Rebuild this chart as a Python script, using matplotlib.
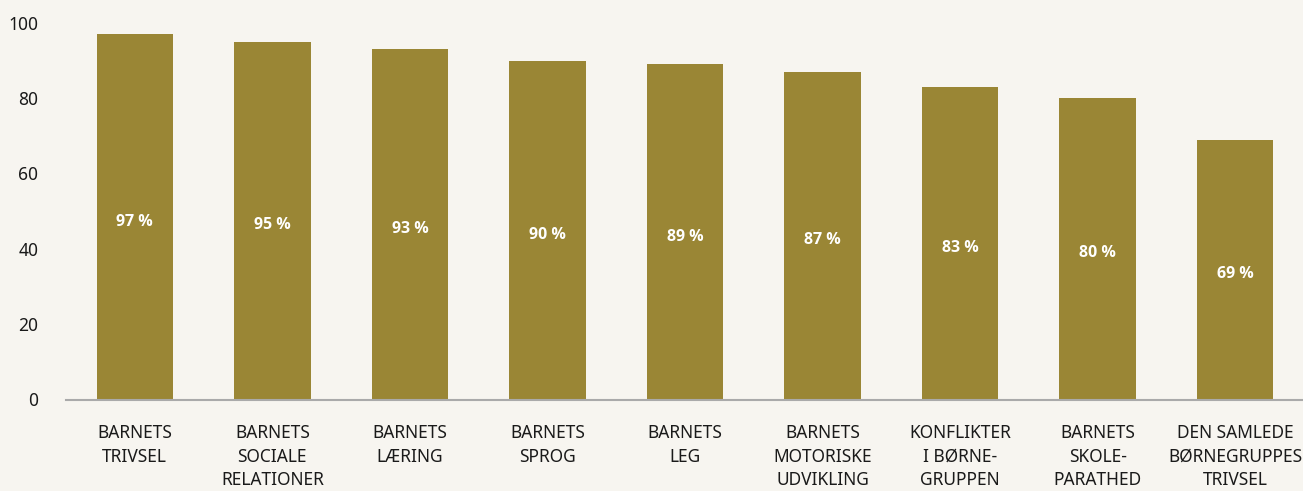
import numpy as np
import matplotlib.pyplot as plt

categories = ["BARNETS\nTRIVSEL", "BARNETS\nSOCIALE\nRELATIONER", "BARNETS\nLÆRING",
              "BARNETS\nSPROG", "BARNETS\nLEG", "BARNETS\nMOTORISKE\nUDVIKLING",
              "KONFLIKTER\nI BØRNE-\nGRUPPEN", "BARNETS\nSKOLE-\nPARATHED",
              "DEN SAMLEDE\nBØRNEGRUPPES\nTRIVSEL"]
values = [97, 95, 93, 90, 89, 87, 83, 80, 69]
yticks = [0, 20, 40, 60, 80, 100]

bg = "#f7f5f0"
bar_color = "#9a8635"

plt.rcParams['font.family'] = ['Noto Sans', 'DejaVu Sans']

fig = plt.figure(figsize=(13.03, 4.91), dpi=100, facecolor=bg)
ax = fig.add_axes([66/1303, 1-399/491, (1304-66)/1303, (399-23)/491])
ax.set_facecolor(bg)

x = np.arange(len(values))
bars = ax.bar(x, values, width=0.555, color=bar_color, zorder=2)
for xi, v in zip(x, values):
    ax.text(xi, v/2 - 1.3, f"{v} %", ha="center", va="center", color="white",
            fontsize=11.5, fontweight="bold", family=['Open Sans', 'DejaVu Sans'])

ax.set_xlim(-0.5, len(values) - 0.5)
ax.set_ylim(0, 100)
ax.set_yticks(yticks)
ax.tick_params(axis="both", length=0, colors="#1a1a1a")
ax.tick_params(axis="y", pad=20, labelsize=12.5)
ax.set_xticks(x)
ax.set_xticklabels([])
# category labels drawn as annotations below the axis
for xi, lab in zip(x, categories):
    ax.annotate(lab, xy=(xi, 0), xycoords=("data", "axes fraction"),
                xytext=(0, -18), textcoords="offset points",
                ha="center", va="top", fontsize=12.5, linespacing=1.4,
                color="#1a1a1a", annotation_clip=False)
for s in ["top", "right", "left"]:
    ax.spines[s].set_visible(False)
ax.spines["bottom"].set_color("#aaaaaa")
ax.spines["bottom"].set_linewidth(1.5)
ax.spines["bottom"].set_position(("outward", 1))

fig.savefig("out.png", dpi=100, facecolor=bg)
